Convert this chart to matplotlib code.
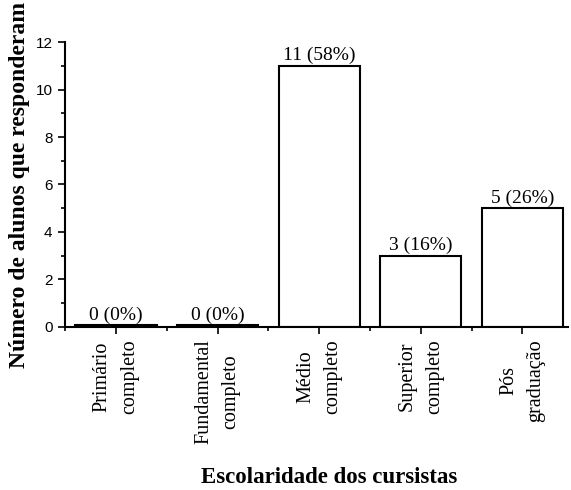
import numpy as np
import matplotlib.pyplot as plt
from matplotlib.ticker import MultipleLocator

categorias = ["Primário\ncompleto", "Fundamental\ncompleto", "Médio\ncompleto",
              "Superior\ncompleto", "Pós\ngraduação"]
alunos = np.array([0, 0, 11, 3, 5])
rotulos = ["0 (0%)", "0 (0%)", "11 (58%)", "3 (16%)", "5 (26%)"]

serif = "Liberation Serif"
sans = "Liberation Sans"

fig = plt.figure(figsize=(5.71, 4.9), dpi=100)
ax = fig.add_axes([0.114, 0.333, 0.881, 0.581])

x = np.arange(len(categorias))
# barras com valor 0 ficam como uma linha fina sobre o eixo
altura = np.maximum(alunos, 0.06)
ax.bar(x, altura, width=0.8, color="white", edgecolor="black", linewidth=1.5)

for xi, h, txt in zip(x, altura, rotulos):
    ax.text(xi, h + 0.06, txt, ha="center", va="bottom", fontsize=14, family=serif)

ax.set_xlim(-0.5, 4.45)
ax.set_ylim(0, 12)
ax.set_xticks(x)
ax.set_xticklabels(categorias, rotation=90, ha="center", va="top",
                   multialignment="center", linespacing=1.6,
                   fontsize=14.5, family=serif)
ax.xaxis.set_minor_locator(MultipleLocator(1, offset=0.5))
ax.yaxis.set_major_locator(MultipleLocator(2))
ax.yaxis.set_minor_locator(MultipleLocator(1))
for lab in ax.get_yticklabels():
    lab.set_family(sans)
    lab.set_fontsize(11)

ax.tick_params(which="major", direction="out", length=5, width=1.2, pad=4)
ax.tick_params(which="minor", direction="out", length=3, width=1.2)
ax.spines["top"].set_visible(False)
ax.spines["right"].set_visible(False)
for s in ("left", "bottom"):
    ax.spines[s].set_linewidth(1.5)

fig.text(20 / 571, 1 - 185 / 490, "Número de alunos que responderam", rotation=90,
         ha="center", va="center", fontsize=17, fontweight="bold", family=serif)
fig.text(329 / 571, 1 - 483 / 490, "Escolaridade dos cursistas",
         ha="center", va="baseline", fontsize=16.5, fontweight="bold", family=serif)

fig.savefig("out.png", dpi=100)
